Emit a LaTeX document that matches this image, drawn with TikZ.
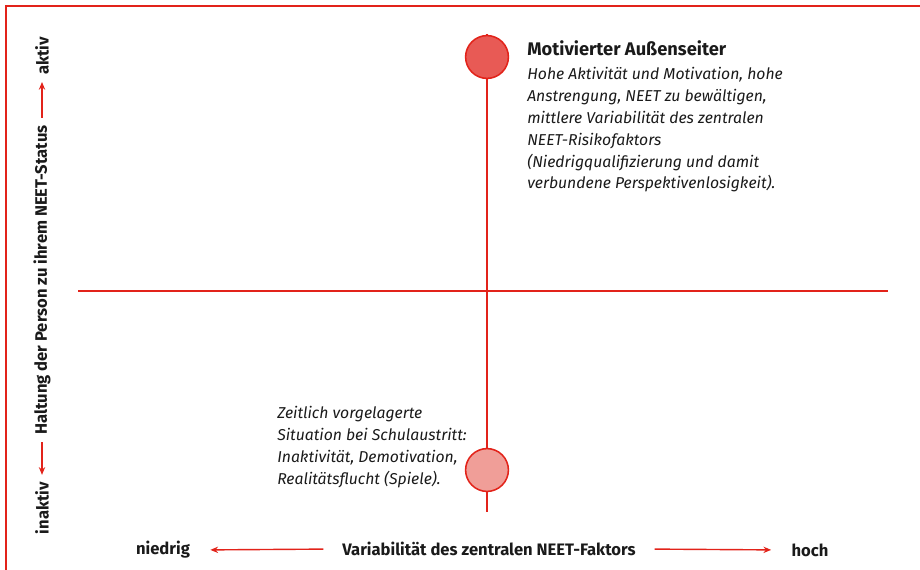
\documentclass[tikz,border=0pt]{standalone}
\usepackage{fontspec}
\setmainfont{Fira Sans}
\usepackage{xcolor}
\usetikzlibrary{arrows.meta}
\definecolor{neet-red}{HTML}{E2231A}
\definecolor{dot-dark}{HTML}{E85A55}
\definecolor{dot-light}{HTML}{F09E98}
\definecolor{text-dark}{HTML}{1A1A1A}

\begin{document}
\begin{tikzpicture}[x=0.025cm, y=-0.025cm,
        every node/.style={font=\fontsize{11.2}{15.6}\selectfont, text=text-dark},
        axisline/.style={neet-red, line width=1.4pt},
        axisarrow/.style={-{Stealth[length=5.5pt, width=4.5pt]}, neet-red, line width=1pt},
        dot/.style={circle, draw=neet-red, line width=1.1pt, minimum size=1.07cm, inner sep=0pt},
        axislabel/.style={font=\fontsize{11.8}{14}\selectfont\bfseries}]
      \useasboundingbox (0,0) rectangle (920,570);
      % frame
      \draw[neet-red, line width=0.8pt] (6,570) -- (6,6) -- (920,6);

      % quadrant lines
      \coordinate (V-top) at (487,34);
      \coordinate (V-bot) at (487,512);
      \coordinate (H-left) at (78,291);
      \coordinate (H-right) at (888,291);
      \draw[axisline] (H-left) -- (H-right);
      \draw[axisline] (V-top) -- (V-bot);

      \node[dot, fill=dot-dark] (HIGH) at (487,57) {};
      \node[dot, fill=dot-light] (LOW) at (487,470) {};

      \node[anchor=north west, align=left, inner sep=0pt] (OUTSIDER) at (527,40)
            {{\fontsize{13}{15.6}\selectfont\bfseries Motivierter Außenseiter}\\[1.6pt]
             \itshape Hohe Aktivität und Motivation, hohe\\
             \itshape Anstrengung, NEET zu bewältigen,\\
             \itshape mittlere Variabilität des zentralen\\
             \itshape NEET-Risikofaktors\\
             \itshape (Niedrigqualifizierung und damit\\
             \itshape verbundene Perspektivenlosigkeit).};
      \node[anchor=north west, align=left, inner sep=0pt] (SCHOOL) at (277,406)
            {\itshape Zeitlich vorgelagerte\\
             \itshape Situation bei Schulaustritt:\\
             \itshape Inaktivität, Demotivation,\\
             \itshape Realitätsflucht (Spiele).};

      % x axis
      \node[axislabel] (XLAB) at (489,549) {Variabilität des zentralen NEET-Faktors};
      \node[axislabel] (LOWX) at (163,550) {niedrig};
      \node[axislabel] (HIGHX) at (810,550) {hoch};
      \draw[axisarrow, shorten <=10pt, shorten >=11pt] (XLAB.west) -- (LOWX.east);
      \draw[axisarrow, shorten <=10pt, shorten >=11pt] (XLAB.east) -- (HIGHX.west);

      % y axis
      \node[axislabel, rotate=90] (YLAB) at (42,280) {Haltung der Person zu ihrem NEET-Status};
      \node[axislabel, rotate=90] (ACTIVE) at (42,56) {aktiv};
      \node[axislabel, rotate=90] (PASSIVE) at (42,508) {inaktiv};
      \draw[axisarrow, shorten <=2pt, shorten >=1.5pt] (YLAB.east) -- (ACTIVE.west);
      \draw[axisarrow, shorten <=2pt, shorten >=1.5pt] (YLAB.west) -- (PASSIVE.east);
    \end{tikzpicture}
\end{document}
